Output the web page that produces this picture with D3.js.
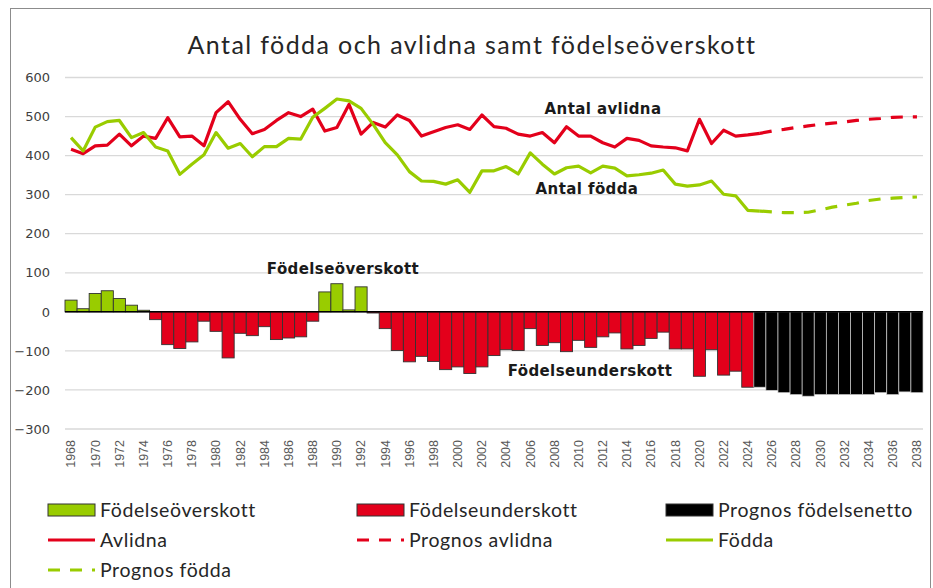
<!DOCTYPE html>
<html>
<head>
<meta charset="utf-8">
<script src="https://cdn.jsdelivr.net/npm/d3@7"></script>
<style>
  body { margin: 0; background: #fff; }
  text { font-family: "Lato", "DejaVu Sans", sans-serif; }
</style>
</head>
<body>
<div id="chart"></div>
<script>
// --------------------------------------
//  Data
// --------------------------------------

const years = d3.range(1968, 2039);
const tickYears = years.filter(d => d % 2 === 0);
const yTicks = [-300, -200, -100, 0, 100, 200, 300, 400, 500, 600];

// 1968-2025
const avlidna = [
  416, 405, 425, 427, 455, 425, 450, 444, 497, 448,
  450, 425, 510, 538, 493, 456, 467, 490, 510, 500,
  519, 463, 472, 531, 455, 485, 473, 504, 490, 450,
  461, 472, 479, 467, 504, 474, 470, 455, 450, 459,
  433, 474, 450, 450, 433, 422, 444, 439, 425, 422,
  420, 412, 493, 431, 465, 450, 453, 457
];
const fodda = [
  446, 412, 473, 487, 490, 446, 459, 422, 412, 352,
  378, 402, 459, 419, 431, 397, 423, 423, 444, 442,
  498, 521, 545, 540, 521, 480, 433, 402, 359, 335,
  334, 327, 338, 306, 361, 361, 372, 353, 407, 378,
  353, 369, 373, 356, 373, 368, 348, 351, 355, 363,
  327, 322, 325, 335, 301, 297, 260, 258
];
// 2025-2038
const prognosAvlidna = [457, 463, 467, 472, 476, 480, 483, 486, 490, 493, 495, 498, 499, 499];
const prognosFodda = [258, 256, 254, 254, 255, 261, 268, 273, 278, 285, 289, 291, 293, 294];

// 1968-2024
const netto = [
  30, 8, 47, 54, 34, 17, 4, -20, -84, -94,
  -77, -24, -50, -118, -55, -61, -38, -71, -67, -64,
  -24, 51, 72, 5, 64, -3, -43, -99, -128, -114,
  -127, -148, -141, -158, -141, -112, -97, -99, -43, -86,
  -79, -102, -73, -91, -64, -54, -95, -86, -68, -52,
  -95, -95, -165, -97, -162, -152, -193
];
// 2025-2038
const prognosNetto = [-193, -201, -207, -212, -216, -212, -212, -212, -212, -212, -207, -212, -205, -207];

const red = "#e3001b";
const green = "#99cc00";

// --------------------------------------
//  Canvas
// --------------------------------------

const width = 933, height = 588;

const svg = d3.select("#chart")
  .append("svg")
    .attr("width", width)
    .attr("height", height);

svg.append("rect")
    .attr("x", 10.5).attr("y", 8.5)
    .attr("width", 920).attr("height", 600)
    .attr("fill", "#fff")
    .attr("stroke", "#8c8c8c");

svg.append("text")
    .attr("x", 472).attr("y", 54)
    .attr("text-anchor", "middle")
    .style("font-size", "25px")
    .style("letter-spacing", "1.4px")
    .style("fill", "#262626")
    .text("Antal födda och avlidna samt födelseöverskott");

// --------------------------------------
//  Scales
// --------------------------------------

const x = d3.scaleBand()
    .domain(years)
    .range([65, 923])
    .padding(0);

const y = d3.scaleLinear()
    .domain([-300, 600])
    .range([429, 77.5]);

const cx = yr => x(yr) + x.bandwidth() / 2;

// --------------------------------------
//  Grid and axes
// --------------------------------------

svg.append("g")
  .selectAll("line")
  .data(yTicks.filter(d => d !== 0))
  .join("line")
    .attr("x1", 65).attr("x2", 923)
    .attr("y1", d => y(d)).attr("y2", d => y(d))
    .attr("stroke", "#d9d9d9")
    .attr("stroke-width", 1.3);

svg.append("g")
    .attr("transform", "translate(65,0)")
    .call(d3.axisLeft(y).tickValues(yTicks).tickSize(0).tickPadding(15))
    .call(g => g.select(".domain").remove())
    .selectAll("text")
      .style("font-family", "'DejaVu Sans', sans-serif")
      .style("font-size", "13px")
      .style("fill", "#404040");

svg.append("g")
    .attr("transform", "translate(0,434)")
    .call(d3.axisBottom(x).tickValues(tickYears).tickSize(0))
    .call(g => g.select(".domain").remove())
    .selectAll("text")
      .attr("transform", "rotate(-90)")
      .attr("text-anchor", "end")
      .attr("x", -6).attr("y", 0).attr("dy", "0.35em")
      .style("font-family", "'Liberation Sans', Arial, sans-serif")
      .style("font-size", "12.5px")
      .style("fill", "#595959");

// --------------------------------------
//  Bars
// --------------------------------------

const barData = netto.map((v, i) => ({ year: 1968 + i, value: v, type: v >= 0 ? "over" : "under" }))
  .concat(prognosNetto.map((v, i) => ({ year: 2025 + i, value: v, type: "prognos" })));

svg.append("g")
  .selectAll("rect")
  .data(barData)
  .join("rect")
    .attr("x", d => x(d.year))
    .attr("width", x.bandwidth())
    .attr("y", d => y(Math.max(0, d.value)))
    .attr("height", d => Math.abs(y(d.value) - y(0)))
    .attr("fill", d => d.type === "over" ? green : d.type === "under" ? red : "#000")
    .attr("stroke", d => d.type === "prognos" ? "#cfcfcf" : "#333")
    .attr("stroke-width", d => d.type === "prognos" ? 0.7 : 0.9);

svg.append("line")
    .attr("x1", 65).attr("x2", 923)
    .attr("y1", y(0)).attr("y2", y(0))
    .attr("stroke", "#000")
    .attr("stroke-width", 1.5);

// --------------------------------------
//  Lines
// --------------------------------------

const line = d3.line()
    .x(d => cx(d.year))
    .y(d => y(d.value));

const toPts = (arr, start) => arr.map((v, i) => ({ year: start + i, value: v }));

const lines = [
  { data: toPts(avlidna, 1968), color: red, dash: null },
  { data: toPts(fodda, 1968), color: green, dash: null },
  { data: toPts(prognosAvlidna, 2025), color: red, dash: "12,10" },
  { data: toPts(prognosFodda, 2025), color: green, dash: "12,10" }
];

svg.append("g")
  .selectAll("path")
  .data(lines)
  .join("path")
    .attr("d", d => line(d.data))
    .attr("fill", "none")
    .attr("stroke", d => d.color)
    .attr("stroke-width", 3.2)
    .attr("stroke-linejoin", "round")
    .attr("stroke-dasharray", d => d.dash);

// --------------------------------------
//  Annotations
// --------------------------------------

const notes = [
  { label: "Antal avlidna", x: 603, y: 114 },
  { label: "Antal födda", x: 587, y: 194 },
  { label: "Födelseöverskott", x: 343, y: 274 },
  { label: "Födelseunderskott", x: 590, y: 376 }
];

svg.append("g")
  .selectAll("text")
  .data(notes)
  .join("text")
    .attr("x", d => d.x).attr("y", d => d.y)
    .attr("text-anchor", "middle")
    .style("font-family", "'DejaVu Sans', sans-serif")
    .style("font-size", "15px")
    .style("letter-spacing", "0.4px")
    .style("font-weight", "bold")
    .style("fill", "#1a1a1a")
    .text(d => d.label);

// --------------------------------------
//  Legend
// --------------------------------------

const legend = [
  { label: "Födelseöverskott", kind: "bar", color: green, col: 0, row: 0 },
  { label: "Födelseunderskott", kind: "bar", color: red, col: 1, row: 0 },
  { label: "Prognos födelsenetto", kind: "bar", color: "#000", col: 2, row: 0 },
  { label: "Avlidna", kind: "line", color: red, col: 0, row: 1 },
  { label: "Prognos avlidna", kind: "dash", color: red, col: 1, row: 1 },
  { label: "Födda", kind: "line", color: green, col: 2, row: 1 },
  { label: "Prognos födda", kind: "dash", color: green, col: 0, row: 2 }
];

const lg = svg.append("g")
  .selectAll("g")
  .data(legend)
  .join("g")
    .attr("transform", d => `translate(${48 + d.col * 309}, ${510 + d.row * 30})`);

lg.filter(d => d.kind === "bar")
  .append("rect")
    .attr("x", 0).attr("y", -6)
    .attr("width", 47).attr("height", 12)
    .attr("fill", d => d.color)
    .attr("stroke", "#333");

lg.filter(d => d.kind !== "bar")
  .append("line")
    .attr("x1", 0).attr("x2", 47)
    .attr("y1", 0).attr("y2", 0)
    .attr("stroke", d => d.color)
    .attr("stroke-width", 3.2)
    .attr("stroke-dasharray", d => d.kind === "dash" ? "12,10" : null);

lg.append("text")
    .attr("x", 52).attr("y", 0)
    .attr("dy", "0.35em")
    .style("font-size", "19.5px")
    .style("letter-spacing", "0.6px")
    .style("fill", "#262626")
    .text(d => d.label);
</script>
</body>
</html>
